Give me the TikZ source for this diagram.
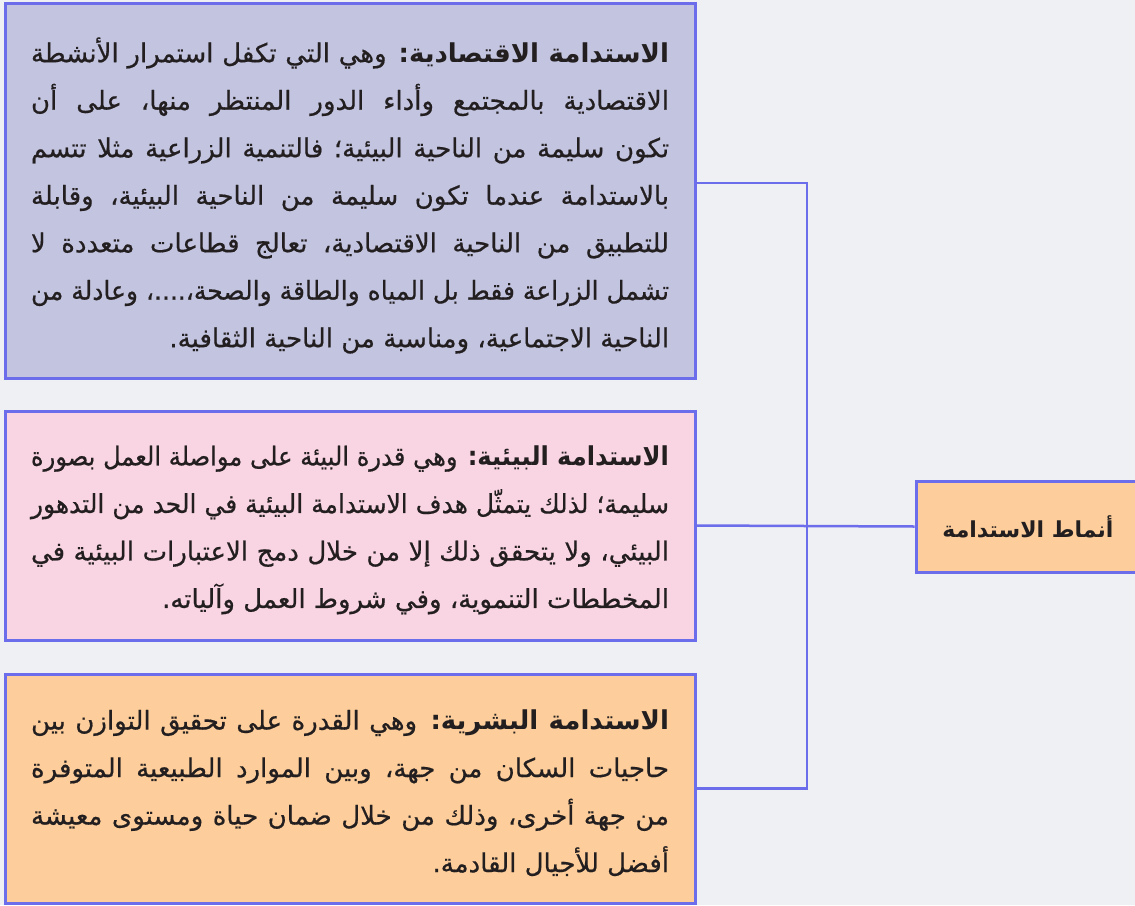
\documentclass[tikz,border=0pt]{standalone}
\usepackage{fontspec}
\usepackage{graphicx}
\TeXXeTstate=1
\newfontfamily\arb[Script=Arabic, FakeBold=0.6]{DejaVu Sans}
\newfontfamily\arbb[Script=Arabic]{DejaVu Sans Bold}
\definecolor{bg}{HTML}{EFF0F3}
\definecolor{bd}{HTML}{6B6DEB}
\definecolor{cA}{HTML}{C3C4DF}
\definecolor{cB}{HTML}{F9D4E2}
\definecolor{cC}{HTML}{FDCE9B}
\definecolor{tx}{HTML}{231F20}
\newdimen\LW \LW=638pt
\newsavebox\linebox
\newcommand{\JL}[1]{\sbox\linebox{\beginR #1\endR}%
  \ifdim\wd\linebox>\LW
    \hbox{\resizebox{\LW}{\height}{\usebox\linebox}}%
  \else
    \hbox to \LW{\beginR #1\endR}%
  \fi}
\newcommand{\LL}[1]{\hbox to \LW{\hfill\beginR #1\endR}}
\newcommand{\K}{\kern0pt}
\newcommand{\B}[1]{{\arbb #1}}
\tikzset{
  box/.style={draw=bd, line width=3pt, inner sep=0pt, text=tx,
    font=\arb\fontsize{26}{30}\selectfont},
  conn/.style={draw=bd, line width=2.5pt}
}
\begin{document}
\begin{tikzpicture}[x=1pt,y=-1pt]
\clip (0,0) rectangle (1135,905);
\fill[bg] (0,0) rectangle (1135,905);
\coordinate (sp) at (807,526);
\node[box, fill=cA, minimum width=690pt, minimum height=375pt] (b1) at (350,190.5) {\vbox{\baselineskip=47.5pt\vskip 10pt
\JL{\B{الاستدامة الاقتصادية\K:} وهي التي تكفل استمرار الأنشطة}
\JL{الاقتصادية بالمجتمع وأداء الدور المنتظر منها\K، على أن}
\JL{تكون سليمة من الناحية البيئية\K؛ فالتنمية الزراعية مثلا تتسم}
\JL{بالاستدامة عندما تكون سليمة من الناحية البيئية\K، وقابلة}
\JL{للتطبيق من الناحية الاقتصادية\K، تعالج قطاعات متعددة لا}
\JL{تشمل الزراعة فقط بل المياه والطاقة والصحة\K،\K....\K، وعادلة من}
\LL{الناحية الاجتماعية\K، ومناسبة من الناحية الثقافية\K.}}};
\node[box, fill=cB, minimum width=690pt, minimum height=229pt] (b2) at (350,525.5) {\vbox{\baselineskip=47.5pt\vskip 9pt
\JL{\B{الاستدامة البيئية\K:} وهي قدرة البيئة على مواصلة العمل بصورة}
\JL{سليمة\K؛ لذلك يتمثّل هدف الاستدامة البيئية في الحد من التدهور}
\JL{البيئي\K، ولا يتحقق ذلك إلا من خلال دمج الاعتبارات البيئية في}
\LL{المخططات التنموية\K، وفي شروط العمل وآلياته\K.}}};
\node[box, fill=cC, minimum width=690pt, minimum height=229pt] (b3) at (350,788.5) {\vbox{\baselineskip=47.5pt\vskip 9pt
\JL{\B{الاستدامة البشرية\K:} وهي القدرة على تحقيق التوازن بين}
\JL{حاجيات السكان من جهة\K، وبين الموارد الطبيعية المتوفرة}
\JL{من جهة أخرى\K، وذلك من خلال ضمان حياة ومستوى معيشة}
\LL{أفضل للأجيال القادمة\K.}}};
\node[box, fill=cC, minimum width=224pt, minimum height=91pt,
  font=\arbb\fontsize{22}{26}\selectfont] (r) at (1028,526.5) {\beginR أنماط الاستدامة\endR};
\draw[conn] (r.west) -- (b2.east);
\draw[conn] ([yshift=7.5pt]b1.east) -| (sp) |- (b3.east);
\end{tikzpicture}
\end{document}
